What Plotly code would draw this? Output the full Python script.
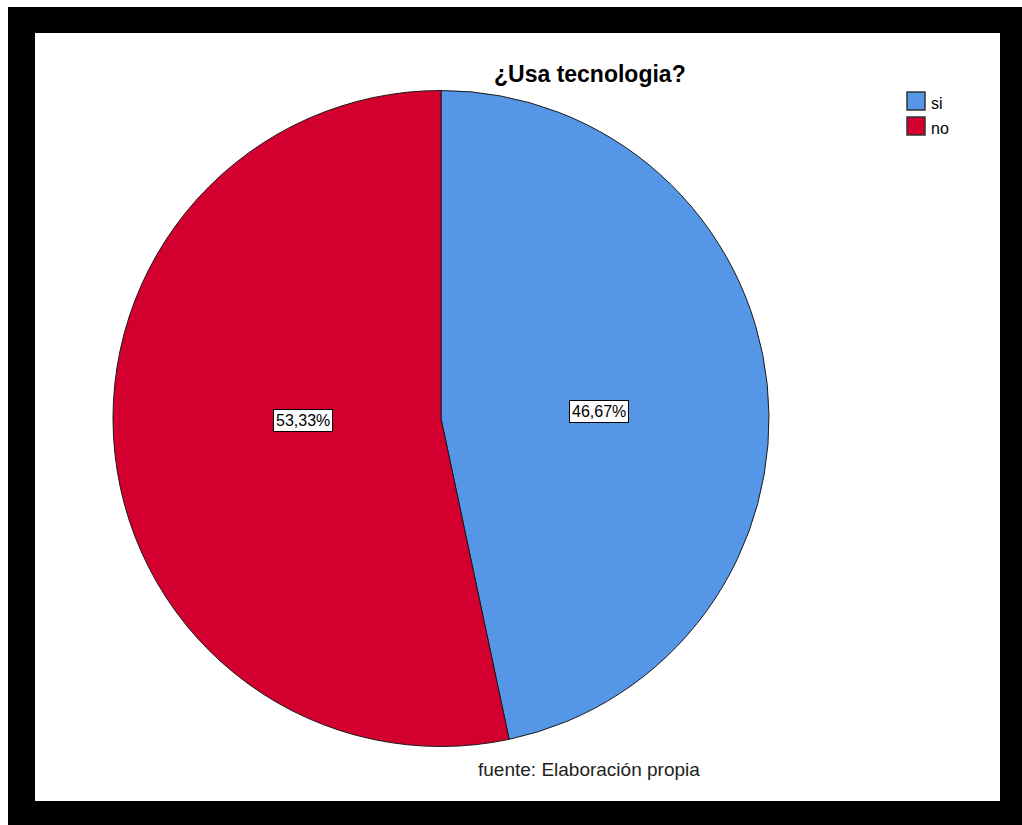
import plotly.graph_objects as go

# Survey answers to "¿Usa tecnologia?" (percent of respondents)
categories = ["si", "no"]
percentages = [46.67, 53.33]
colors = ["#5596E6", "#D3002F"]

title_text = "¿Usa tecnologia?"
source_text = "fuente: Elaboración propia"

W, H = 1022, 825
FONT = "Liberation Sans, Arial"


def px_x(x):
    return x / W


def px_y(y):
    return 1 - y / H


fig = go.Figure()

fig.add_trace(go.Pie(
    labels=categories,
    values=percentages,
    sort=False,
    direction="clockwise",
    rotation=0,
    marker=dict(colors=colors, line=dict(color="#1a1a1a", width=1)),
    textinfo="none",
    hoverinfo="label+percent",
    showlegend=False,
    domain=dict(x=[px_x(113), px_x(769)], y=[px_y(749), px_y(88)]),
))

# Black frame with white plotting panel
shapes = [
    dict(type="rect", xref="paper", yref="paper",
         x0=px_x(8), x1=1, y0=0, y1=px_y(7),
         fillcolor="black", line=dict(width=0), layer="below"),
    dict(type="rect", xref="paper", yref="paper",
         x0=px_x(35), x1=px_x(1000), y0=px_y(801), y1=px_y(33),
         fillcolor="white", line=dict(width=0), layer="below"),
]

annotations = []

# Percentage labels with boxed white background
label_pos = {"si": (599, 411), "no": (303, 421)}
for cat, pct in zip(categories, percentages):
    lx, ly = label_pos[cat]
    annotations.append(dict(
        x=px_x(lx), y=px_y(ly), xref="paper", yref="paper",
        text=f"{pct:.2f}%".replace(".", ","), showarrow=False,
        font=dict(family=FONT, size=16, color="black"),
        bgcolor="white", bordercolor="black", borderwidth=1, borderpad=2,
        xanchor="center", yanchor="middle",
    ))

# Legend drawn as swatches with labels
for i, (cat, col) in enumerate(zip(categories, colors)):
    top = 92 + i * 25
    shapes.append(dict(
        type="rect", xref="paper", yref="paper",
        x0=px_x(907), x1=px_x(925), y0=px_y(top + 18), y1=px_y(top),
        fillcolor=col, line=dict(color="#333333", width=1.5),
    ))
    annotations.append(dict(
        x=px_x(929), y=px_y(top + 11), xref="paper", yref="paper",
        text=cat, showarrow=False, xanchor="left", yanchor="middle",
        font=dict(family=FONT, size=16, color="black"),
    ))

# Title and source note
annotations.append(dict(
    x=px_x(590), y=px_y(74), xref="paper", yref="paper",
    text=f"<b>{title_text}</b>", showarrow=False,
    xanchor="center", yanchor="middle",
    font=dict(family=FONT, size=23, color="black"),
))
annotations.append(dict(
    x=px_x(589), y=px_y(769), xref="paper", yref="paper",
    text=source_text, showarrow=False,
    xanchor="center", yanchor="middle",
    font=dict(family=FONT, size=19, color="#222222"),
))

fig.update_layout(
    width=W, height=H,
    margin=dict(l=0, r=0, t=0, b=0),
    paper_bgcolor="white",
    plot_bgcolor="white",
    shapes=shapes,
    annotations=annotations,
)

fig.write_html("out.html")
